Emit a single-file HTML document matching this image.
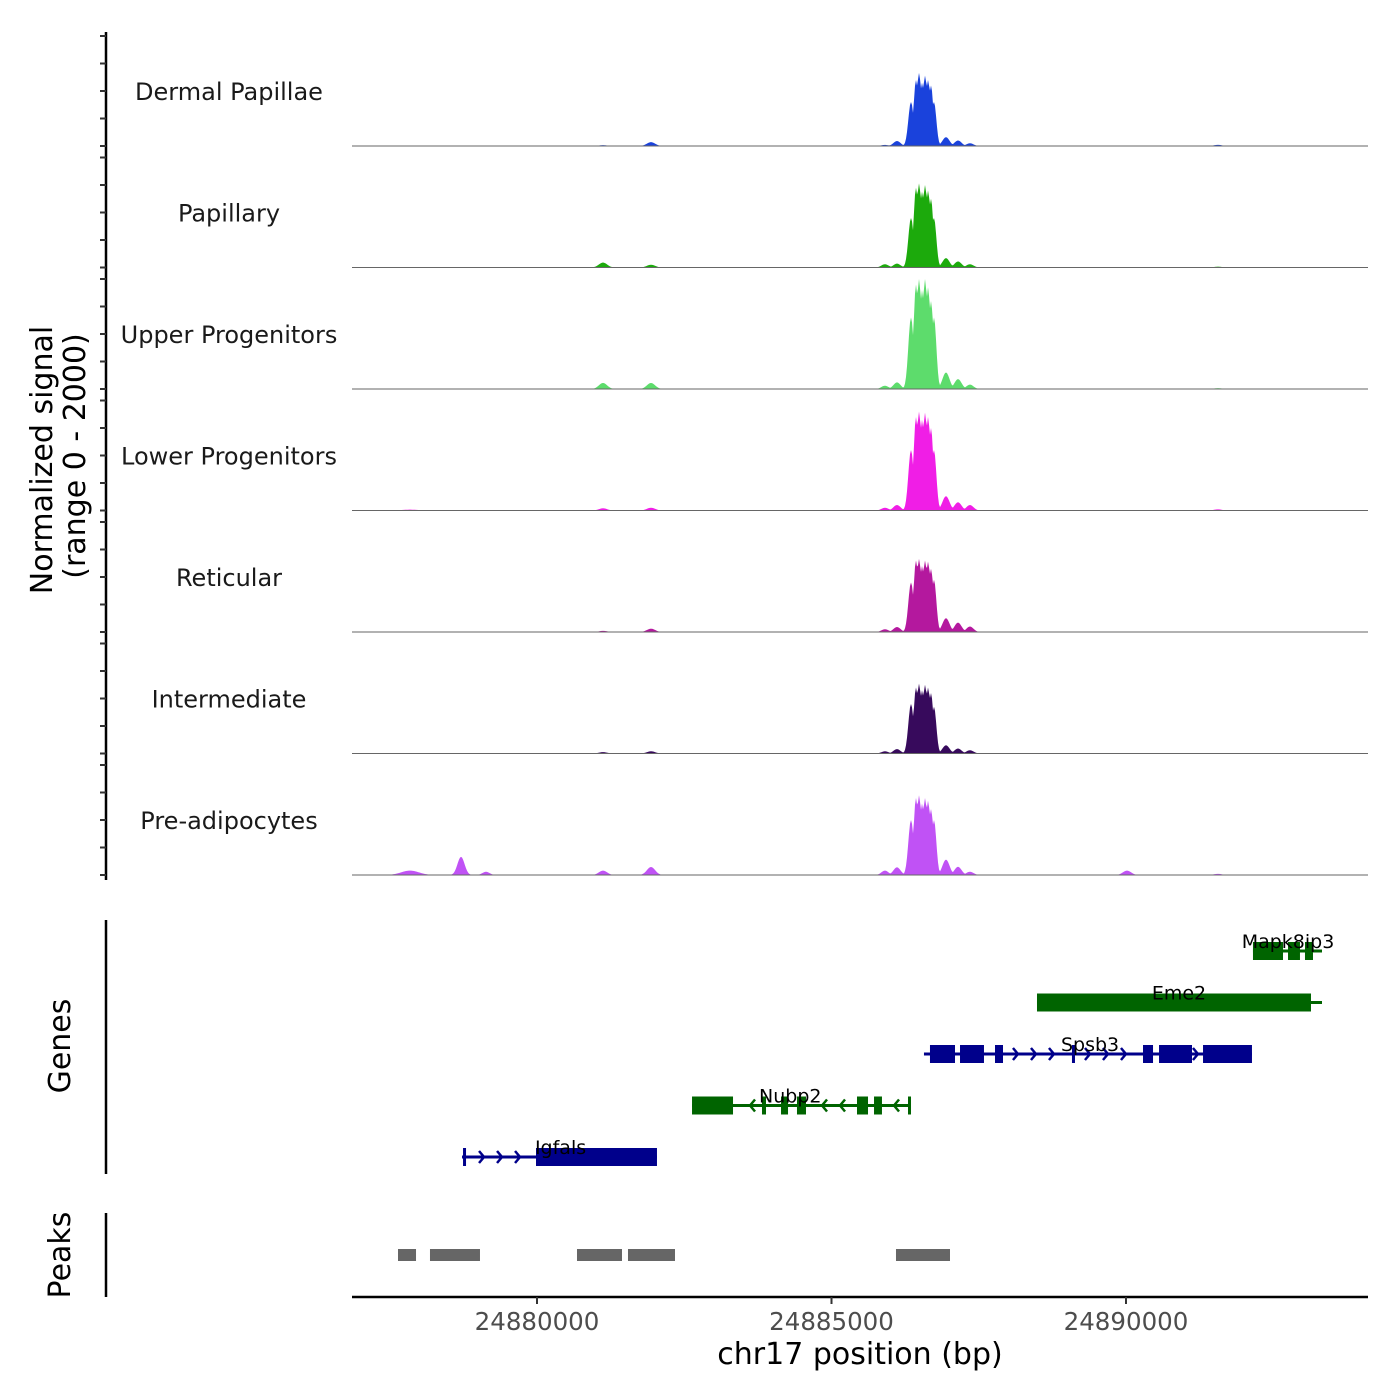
<!DOCTYPE html>
<html><head><meta charset="utf-8"><style>
html,body{margin:0;padding:0;background:#fff;}
svg{display:block;font-family:"DejaVu Sans","Liberation Sans",sans-serif;}
</style></head><body>
<svg id="chart" width="1400" height="1400" viewBox="0 0 1400 1400" xmlns="http://www.w3.org/2000/svg">
<rect width="1400" height="1400" fill="#fff"/>
<g id="tracks"></g>
<g id="genes"></g>
<g id="peaks"></g>
<g id="axes"></g>
</svg>
<script>
const trackNames = ["Dermal Papillae","Papillary","Upper Progenitors","Lower Progenitors","Reticular","Intermediate","Pre-adipocytes"];
const trackColors = ["#1a42dc","#1caa0c","#5ddc6c","#f01ee6","#b4189e","#370a5c","#c052f5"];
const bumpCenters = [24877844,24878710,24879134,24881121,24881936,24885908,24886112,24886350,24886435,24886486,24886537,24886588,24886639,24886689,24886740,24886944,24887148,24887351,24890017,24891562];
const bumpWidths = [150,60,60,70,70,60,60,45,40,40,40,40,40,40,40,60,60,60,70,70];
const sigDermal = [0,0,0,15,70,20,90,800,1200,1330,1150,1280,1200,1100,800,160,100,50,0,20];
const sigPapillary = [0,0,0,90,50,60,70,900,1450,1530,1380,1500,1400,1250,900,170,110,60,0,15];
const sigUpper = [0,0,0,110,110,60,120,1300,1900,2000,1800,2000,1850,1600,1300,300,180,80,0,15];
const sigLower = [15,0,0,40,50,50,100,1100,1700,1800,1650,1780,1700,1500,1100,260,150,100,10,20];
const sigReticular = [10,0,0,20,60,50,90,900,1300,1330,1200,1300,1280,1150,950,250,170,100,0,10];
const sigIntermediate = [10,0,0,25,40,40,80,900,1200,1270,1150,1250,1200,1100,850,150,90,60,0,10];
const sigPreadipo = [80,330,60,80,145,80,140,1000,1400,1450,1300,1400,1350,1200,1000,280,150,60,80,20];
const trackSignals = [sigDermal,sigPapillary,sigUpper,sigLower,sigReticular,sigIntermediate,sigPreadipo];
const xTicks = [24880000,24885000,24890000];
const peakStarts = [24877640,24878183,24880679,24881545,24886095];
const peakEnds = [24877946,24879032,24881443,24882343,24887012];
const geneNames = ["Mapk8ip3","Eme2","Spsb3","Nubp2","Igfals"];
const geneStarts = [24892156,24888489,24886570,24882632,24878727];
const geneEnds = [24893328,24893328,24892139,24886333,24882037];
const geneStrands = ["-","-","+","-","+"];
const geneExons = [
 [[24892156,24892666],[24892751,24892954],[24893039,24893175]],
 [[24888489,24893141]],
 [[24886672,24887097],[24887182,24887589],[24887776,24887912],[24889083,24889134],[24890289,24890459],[24890561,24891121],[24891308,24892139]],
 [[24882632,24883328],[24883820,24883888],[24884143,24884262],[24884414,24884567],[24885433,24885620],[24885722,24885857],[24886299,24886333]],
 [[24878744,24878795],[24879983,24882037]]
];
const geneLabelPos = [24892751,24890900,24889390,24884300,24880400];

const NS="http://www.w3.org/2000/svg";
const XMIN=24876859, XMAX=24894109, X0=352, X1=1368;
const xs = bp => X0 + (bp-XMIN)/(XMAX-XMIN)*(X1-X0);
const VMAX=2000, PH=110;
function mk(tag, attrs, parent){const e=document.createElementNS(NS,tag);for(const k in attrs)e.setAttribute(k,attrs[k]);parent.appendChild(e);return e;}

const tracks=document.getElementById('tracks');
trackNames.forEach((name,i)=>{
  const base=146+i*121.5;
  const g=mk('g',{},tracks);
  
  
  const sig=trackSignals[i];
  let d='M'+X0+' '+base;
  for(let x=X0;x<=X1;x+=1){
    const bp=XMIN+(x-X0)/(X1-X0)*(XMAX-XMIN);
    let v=0;
    for(let k=0;k<bumpCenters.length;k++){
      const z=(bp-bumpCenters[k])/bumpWidths[k];
      const t=sig[k]*Math.exp(-z*z/2);
      if(t>v)v=t;
    }
    v=Math.min(v,VMAX);
    d+=' L'+x+' '+(base-v/VMAX*PH).toFixed(2);
  }
  d+=' L'+X1+' '+base+' Z';
  const p=mk('path',{d:d,fill:trackColors[i]},g);
  
  
  const l=mk('line',{x1:X0,x2:X1,y1:base,y2:base,stroke:'#666','stroke-width':1},g);
  
  
  const t=mk('text',{x:229,y:base-46,'text-anchor':'middle','font-size':24,fill:'#1a1a1a'},g);
  t.textContent=name;
  
  
});

const axes=document.getElementById('axes');
mk('line',{x1:106,x2:106,y1:32,y2:880,stroke:'#000','stroke-width':2.5},axes);
for(let i=0;i<7;i++){
  const base=146+i*121.5;
  for(let k=0;k<=4;k++){
    const y=base-k*PH/4;
    mk('line',{x1:100,x2:106,y1:y,y2:y,stroke:'#333','stroke-width':2},axes);
  }
}
const yt=mk('text',{transform:'translate(52,460) rotate(-90)','text-anchor':'middle','font-size':30,fill:'#000'},axes);
yt.textContent='Normalized signal';


const yt2=mk('text',{transform:'translate(85,456) rotate(-90)','text-anchor':'middle','font-size':30,fill:'#000'},axes);
yt2.textContent='(range 0 - 2000)';


mk('line',{x1:106,x2:106,y1:920,y2:1174,stroke:'#000','stroke-width':2.5},axes);
const gt=mk('text',{transform:'translate(70,1046) rotate(-90)','text-anchor':'middle','font-size':30,fill:'#000'},axes);
gt.textContent='Genes';


mk('line',{x1:106,x2:106,y1:1213,y2:1297,stroke:'#000','stroke-width':2.5},axes);
const pt=mk('text',{transform:'translate(70,1255) rotate(-90)','text-anchor':'middle','font-size':30,fill:'#000'},axes);
pt.textContent='Peaks';


mk('line',{x1:X0,x2:X1,y1:1297,y2:1297,stroke:'#000','stroke-width':2.5},axes);
xTicks.forEach(v=>{
  const x=xs(v);
  mk('line',{x1:x,x2:x,y1:1297,y2:1304,stroke:'#333','stroke-width':2},axes);
  const t=mk('text',{x:x,y:1330,'text-anchor':'middle','font-size':24.5,fill:'#4d4d4d'},axes);
  t.textContent=v;
  
  
});
const xt=mk('text',{x:860,y:1364,'text-anchor':'middle','font-size':30,fill:'#000'},axes);
xt.textContent='chr17 position (bp)';



const peaks=document.getElementById('peaks');
peakStarts.forEach((s,i)=>{
  const r=mk('rect',{x:xs(s),y:1249,width:xs(peakEnds[i])-xs(s),height:12,fill:'#666'},peaks);
  
  
});

const genes=document.getElementById('genes');
geneNames.forEach((name,i)=>{
  const y=951+i*51.5;
  const col=geneStrands[i]==='+'?'#00008b':'#006400';
  const g=mk('g',{},genes);
  
  
  const xa=xs(geneStarts[i]), xb=xs(geneEnds[i]);
  mk('line',{x1:xa,x2:xb,y1:y,y2:y,stroke:col,'stroke-width':3},g);
  const ex=geneExons[i].map(e=>[xs(e[0]),xs(e[1])]);
  for(let x=xa+4;x<xb-2;x+=18){
    if(ex.some(e=>x>e[0]-5&&x<e[1]+5))continue;
    const dx=geneStrands[i]==='+'?-5:5;
    mk('polyline',{points:(x+dx)+','+(y-6)+' '+x+','+y+' '+(x+dx)+','+(y+6),fill:'none',stroke:col,'stroke-width':2.5},g);
  }
  ex.forEach(e=>{
    const r=mk('rect',{x:e[0],y:y-9,width:Math.max(e[1]-e[0],3),height:18,fill:col},g);
    
    
  });
  const t=mk('text',{x:xs(geneLabelPos[i]),y:y-3,'text-anchor':'middle','font-size':19,fill:'#000'},g);
  t.textContent=name;
  
  
});
</script>
</body></html>
